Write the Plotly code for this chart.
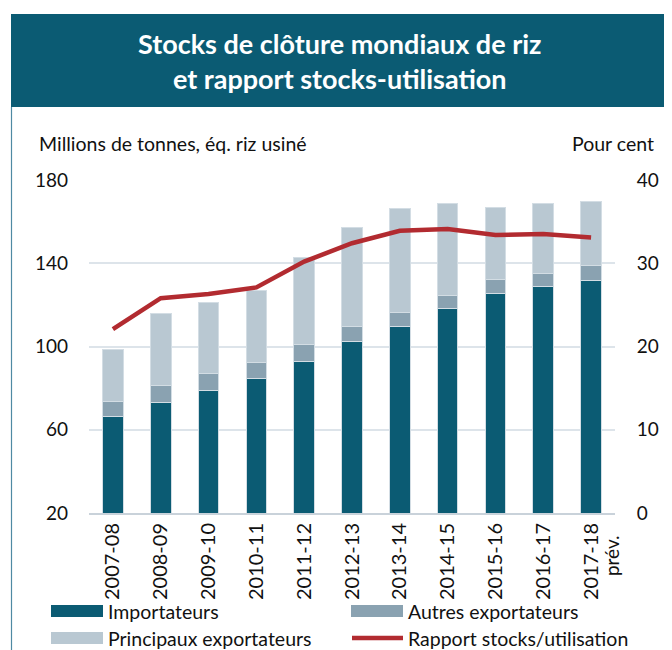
import plotly.graph_objects as go

# ---- data ----
campagnes = ["2007-08", "2008-09", "2009-10", "2010-11", "2011-12", "2012-13",
             "2013-14", "2014-15", "2015-16", "2016-17", "2017-18"]
importateurs = [66.3, 73.2, 78.8, 84.7, 92.8, 102.4, 109.5, 118.3, 125.4, 128.9, 131.8]
autres_exportateurs = [7.3, 8.2, 8.2, 7.7, 8.0, 7.2, 6.7, 6.3, 6.9, 6.4, 7.2]
principaux_exportateurs = [25.0, 34.5, 34.0, 34.7, 42.1, 47.6, 50.3, 44.2, 34.7, 33.6, 30.5]
rapport_stocks_utilisation = [22.1, 25.8, 26.3, 27.1, 30.2, 32.4, 33.9, 34.1, 33.4, 33.5, 33.1]

left_ticks = [20, 60, 100, 140, 180]
right_ticks = [0, 10, 20, 30, 40]

# ---- styles ----
W, H = 672, 650
OFF = 8  # page body margin
L, R, T, B = 89, 615, 180, 513  # plot area in window pixels
TEAL = "#0b5b73"
C_IMP = "#0b5b73"
C_AUT = "#8aa2b1"
C_PRI = "#b9c8d2"
C_LINE = "#b22b30"
GRID = "#dde4ea"
FONT = "Lato"
TXT = "#111111"


def px(x):
    return (x - L) / (R - L)


def py(y):
    return (B - y) / (B - T)


fig = go.Figure()
edge = dict(color="#d3dde4", width=1)
fig.add_trace(go.Bar(x=campagnes, y=importateurs, name="Importateurs",
                     marker=dict(color=C_IMP, line=edge), width=0.43, yaxis="y"))
fig.add_trace(go.Bar(x=campagnes, y=autres_exportateurs, name="Autres exportateurs",
                     marker=dict(color=C_AUT, line=edge), width=0.43, yaxis="y"))
fig.add_trace(go.Bar(x=campagnes, y=principaux_exportateurs, name="Principaux exportateurs",
                     marker=dict(color=C_PRI, line=edge), width=0.43, yaxis="y"))
fig.add_trace(go.Scatter(x=campagnes, y=rapport_stocks_utilisation, name="Rapport stocks/utilisation",
                         mode="lines", line=dict(color=C_LINE, width=4.5), yaxis="y2"))

shapes = []
annotations = []

# title banner
shapes.append(dict(type="rect", xref="paper", yref="paper",
                   x0=px(11), x1=px(690), y0=py(107), y1=py(14),
                   fillcolor=TEAL, line=dict(width=0), layer="below"))
# left frame line
shapes.append(dict(type="line", xref="paper", yref="paper",
                   x0=px(11.5), x1=px(11.5), y0=py(107), y1=py(670),
                   line=dict(color="#4f8aa3", width=1.2)))
annotations.append(dict(xref="paper", yref="paper", x=px(340), y=py(61),
                        text="<b>Stocks de clôture mondiaux de riz<br>et rapport stocks-utilisation</b>",
                        showarrow=False, xanchor="center", yanchor="middle",
                        font=dict(family=FONT, size=27, color="white")))
# axis titles
annotations.append(dict(xref="paper", yref="paper", x=px(37), y=py(143),
                        text="Millions de tonnes, éq. riz usiné", showarrow=False,
                        xanchor="left", yanchor="middle",
                        font=dict(family=FONT, size=19.5, color=TXT)))
annotations.append(dict(xref="paper", yref="paper", x=px(656), y=py(143),
                        text="Pour cent", showarrow=False,
                        xanchor="right", yanchor="middle",
                        font=dict(family=FONT, size=19.5, color=TXT)))
# "prév." under last category
annotations.append(dict(xref="x", yref="paper", x=campagnes[-1], y=py(556),
                        text="prév.", showarrow=False, textangle=-90,
                        xanchor="center", yanchor="middle", xshift=20,
                        font=dict(family=FONT, size=19, color=TXT)))

# custom legend
legend_items = [
    ("Importateurs", C_IMP, "rect", 51, 611),
    ("Autres exportateurs", C_AUT, "rect", 351, 611),
    ("Principaux exportateurs", C_PRI, "rect", 51, 638),
    ("Rapport stocks/utilisation", C_LINE, "line", 351, 638),
]
for label, color, kind, x0, yc in legend_items:
    if kind == "rect":
        shapes.append(dict(type="rect", xref="paper", yref="paper",
                           x0=px(x0), x1=px(x0 + 52), y0=py(yc + 6), y1=py(yc - 6),
                           fillcolor=color, line=dict(width=0)))
    else:
        shapes.append(dict(type="line", xref="paper", yref="paper",
                           x0=px(x0 + 1), x1=px(x0 + 52), y0=py(yc), y1=py(yc),
                           line=dict(color=color, width=4.5)))
    annotations.append(dict(xref="paper", yref="paper", x=px(x0 + 55), y=py(yc),
                            text=label, showarrow=False, xanchor="left", yanchor="middle",
                            font=dict(family=FONT, size=19.5, color=TXT)))

fig.update_layout(
    width=W, height=H,
    margin=dict(l=L - OFF, r=W - (R - OFF), t=T - OFF, b=H - (B - OFF), pad=0),
    paper_bgcolor="white", plot_bgcolor="white",
    barmode="stack", bargap=0.57,
    showlegend=False,
    font=dict(family=FONT, size=17, color=TXT),
    xaxis=dict(type="category", range=[-0.5, 10.5], tickangle=-90,
               showgrid=False, showline=True, linecolor="#c9d2da", linewidth=2,
               ticks="", tickfont=dict(family=FONT, size=20, color=TXT)),
    yaxis=dict(range=[20, 180], tickvals=left_ticks, showgrid=True, gridcolor=GRID,
               gridwidth=1.5, zeroline=False, ticks="", ticklabelstandoff=20,
               tickfont=dict(family=FONT, size=19, color=TXT)),
    yaxis2=dict(range=[0, 40], tickvals=right_ticks, overlaying="y", side="right",
                showgrid=False, zeroline=False, ticks="outside", ticklen=17,
                tickcolor="rgba(0,0,0,0)",
                tickfont=dict(family=FONT, size=19, color=TXT)),
    shapes=shapes, annotations=annotations,
)

fig.write_html("out.html")
